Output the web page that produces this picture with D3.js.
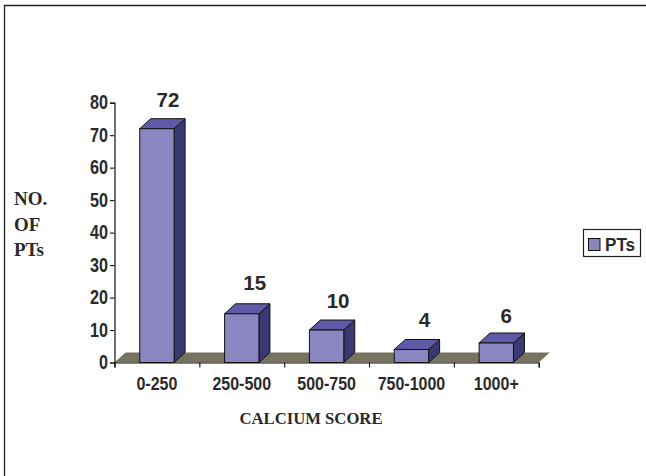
<!DOCTYPE html>
<html><head><meta charset="utf-8">
<script src="https://cdn.jsdelivr.net/npm/d3@7"></script>
<style>html,body{margin:0;padding:0;background:#fff}svg{display:block}text{fill:#2a2a2a}</style>
</head><body><svg id="c" width="646" height="476"></svg>
<script>
const categories=["0-250","250-500","500-750","750-1000","1000+"];
const values=[72,15,10,4,6];
const yTicks=[0,10,20,30,40,50,60,70,80];
const seriesName="PTs";
const yTitle=["NO.","OF","PTs"];
const xTitle="CALCIUM SCORE";
const labelNudgeX=[0,2,0.5,2,-1];
const labelNudgeY=[-2,-4,-2,-3,0];

const svg=d3.select("#c");
const W=646,H=476,depthX=11,depthY=10;
const frontColor="#8a86c0",topColor="#5f5aa8",sideColor="#3b3972",floorColor="#77735f",ink="#111";
const sans="'Liberation Sans',Arial,sans-serif",serif="'Liberation Serif','Times New Roman',serif";

svg.append("path").attr("d",`M${W},5.5H4.5V${H}`).attr("fill","none").attr("stroke","#222").attr("stroke-width",1.3);

const x=d3.scaleBand().domain(categories).range([114.5,538.7]).paddingInner(0.595).paddingOuter(0.2975);
const y=d3.scaleLinear().domain([0,80]).range([362.5,102.7]);

// floor
const x0=x.range()[0],x1=x.range()[1],y0=y(0);
svg.append("path").attr("d",`M${x0},${y0}L${x0+depthX},${y0-depthY}H${x1+depthX}L${x1},${y0}Z`).attr("fill",floorColor);

// axes
const yAxis=d3.axisLeft(y).tickValues(yTicks).tickSize(4.5).tickPadding(2);
const gy=svg.append("g").attr("transform",`translate(${x0},0)`).call(yAxis);
const xAxis=d3.axisBottom(d3.scaleLinear().domain([0,categories.length]).range([x0,x1])).tickValues(d3.range(categories.length+1)).tickSize(5).tickFormat("");
const gx=svg.append("g").attr("transform",`translate(0,${y0})`).call(xAxis);
svg.selectAll(".domain").attr("stroke",ink).attr("stroke-width",1.2);
svg.selectAll(".tick line").attr("stroke",ink).attr("stroke-width",1.1);
gy.selectAll("text").attr("font-family",sans).attr("font-size",19.5).attr("font-weight","bold").attr("fill","#2a2a2a")
  .attr("transform",function(){const xx=+d3.select(this).attr("x");return `translate(${xx},0) scale(0.83,1) translate(${-xx},0)`;});

// bars
const bars=svg.append("g").selectAll("g").data(values).join("g");
const bw=x.bandwidth();
bars.append("path").attr("fill",sideColor).attr("stroke",ink).attr("stroke-width",1).attr("stroke-linejoin","round")
 .attr("d",(d,i)=>{const a=x(categories[i])+bw,t=y(d);return `M${a},${y0}V${t}l${depthX},${-depthY}V${y0-depthY}Z`;});
bars.append("path").attr("fill",topColor).attr("stroke",ink).attr("stroke-width",1).attr("stroke-linejoin","round")
 .attr("d",(d,i)=>{const a=x(categories[i]),t=y(d);return `M${a},${t}l${depthX},${-depthY}h${bw}l${-depthX},${depthY}Z`;});
bars.append("rect").attr("fill",frontColor).attr("stroke",ink).attr("stroke-width",1)
 .attr("x",(d,i)=>x(categories[i])).attr("width",bw).attr("y",d=>y(d)).attr("height",d=>y0-y(d));

// value labels
svg.append("g").selectAll("text").data(values).join("text")
 .attr("text-anchor","middle").attr("font-family",sans).attr("font-weight","bold").attr("font-size",20.5)
 .attr("x",(d,i)=>x(categories[i])+bw/2+depthX+labelNudgeX[i])
 .attr("y",(d,i)=>y(d)-depthY-10+labelNudgeY[i]).text(d=>d);

// category labels
svg.append("g").selectAll("text").data(categories).join("text")
 .attr("text-anchor","middle").attr("font-family",sans).attr("font-weight","bold").attr("font-size",18)
 .attr("transform",(d,i)=>`translate(${x(d)+bw/2},390) scale(0.89,1)`).text(d=>d);

// axis titles
svg.append("text").attr("x",311).attr("y",424).attr("text-anchor","middle").attr("font-family",serif).attr("font-weight","bold").attr("font-size",16).attr("fill","#222")
 .attr("textLength",143).attr("lengthAdjust","spacingAndGlyphs").text(xTitle);
svg.append("g").selectAll("text").data(yTitle).join("text").attr("x",14).attr("y",(d,i)=>205+i*25.5)
 .attr("font-family",serif).attr("font-weight","bold").attr("font-size",19).text(d=>d);

// legend
const lg=svg.append("g");
lg.append("rect").attr("x",583.5).attr("y",229.5).attr("width",57).attr("height",27).attr("fill","#fff").attr("stroke","#222").attr("stroke-width",1.2);
lg.append("rect").attr("x",588.5).attr("y",238.5).attr("width",11.5).attr("height",12).attr("fill",frontColor).attr("stroke",ink);
lg.append("text").attr("transform","translate(605,250.5) scale(0.9,1)").attr("font-family",sans).attr("font-weight","bold").attr("font-size",19).text(seriesName);
</script></body></html>
